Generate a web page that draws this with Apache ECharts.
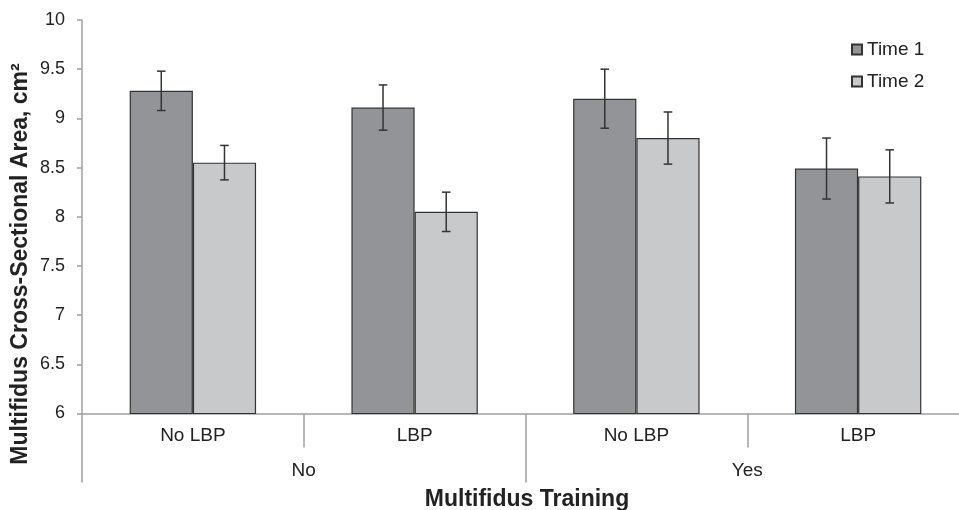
<!DOCTYPE html>
<html><head><meta charset="utf-8">
<script src="https://cdn.jsdelivr.net/npm/echarts@6/dist/echarts.min.js"></script>
<style>html,body{margin:0;padding:0;background:#fff}#c{width:959px;height:510px}</style>
</head><body><div id="c"></div>
<script>
const categories = ['No LBP', 'LBP', 'No LBP', 'LBP'];
const groups = ['No', 'Yes'];
const seriesNames = ['Time 1', 'Time 2'];
const time1 = [9.28, 9.11, 9.20, 8.49];
const time2 = [8.55, 8.05, 8.80, 8.41];
const time1Err = [0.20, 0.23, 0.30, 0.31];
const time2Err = [0.175, 0.20, 0.265, 0.27];
const yTicks = [6, 6.5, 7, 7.5, 8, 8.5, 9, 9.5, 10];
const yTitle = 'Multifidus Cross-Sectional Area, cm²';
const xTitle = 'Multifidus Training';

const colors = ['#939498', '#c8c9cb'];
const FONT = 'Liberation Sans, Arial, sans-serif';
const axisGray = '#a0a0a0';
const gapPct = 43;

const errData = [];
[time1, time2].forEach((vals, s) => {
  const errs = s === 0 ? time1Err : time2Err;
  vals.forEach((v, i) => errData.push([i, v - errs[i], v + errs[i], s]));
});

const chart = echarts.init(document.getElementById('c'));
chart.setOption({
  animation: false,
  backgroundColor: '#fff',
  grid: { left: 82, top: 20, width: 887, height: 393.5, containLabel: false, outerBoundsMode: 'none' },
  legend: {
    orient: 'vertical', left: 846, top: 35, itemGap: 13,
    itemWidth: 10, itemHeight: 10, icon: 'rect',
    textStyle: { fontFamily: FONT, fontSize: 19, color: '#222', padding: [0, 0, 0, 0] },
    data: seriesNames
  },
  graphic: [
    { type: 'text', x: 21, y: 264, rotation: Math.PI / 2,
      style: { text: yTitle, fontFamily: FONT, fontSize: 23, fontWeight: 'bold', fill: '#222',
        align: 'center', verticalAlign: 'middle' } },
    { type: 'text', x: 527, y: 500,
      style: { text: xTitle, fontFamily: FONT, fontSize: 23, fontWeight: 'bold', fill: '#222',
        align: 'center', verticalAlign: 'middle' } }
  ],
  xAxis: [
    {
      type: 'category', data: categories, position: 'bottom',
      axisLine: { show: true, lineStyle: { color: axisGray, width: 1.5 } },
      axisTick: { show: true, interval: 0, length: 34, lineStyle: { color: axisGray, width: 1.5 } },
      axisLabel: { show: true, interval: 0, margin: 13, fontFamily: FONT, fontSize: 19, color: '#222' }
    },
    {
      type: 'category', data: groups, position: 'bottom',
      axisLine: { show: false },
      axisTick: { show: true, interval: 0, length: 69, lineStyle: { color: axisGray, width: 1.5 } },
      axisLabel: { show: true, interval: 0, margin: 48, fontFamily: FONT, fontSize: 19, color: '#222' }
    }
  ],
  yAxis: {
    type: 'value', min: 6, max: 10, interval: 0.5,
    axisLine: { show: true, lineStyle: { color: axisGray, width: 1.5 } },
    axisTick: { show: true, length: 5, lineStyle: { color: axisGray, width: 1.5 } },
    splitLine: { show: false },
    axisLabel: { margin: 17, fontFamily: FONT, fontSize: 18, color: '#222' }
  },
  series: [
    { name: seriesNames[0], type: 'bar', data: time1, barGap: '0%', barCategoryGap: gapPct + '%',
      itemStyle: { color: colors[0], borderColor: '#333', borderWidth: 1.2 } },
    { name: seriesNames[1], type: 'bar', data: time2, barGap: '0%', barCategoryGap: gapPct + '%',
      itemStyle: { color: colors[1], borderColor: '#333', borderWidth: 1.2 } },
    {
      type: 'custom', data: errData, z: 10,
      renderItem: function (params, api) {
        const cat = api.value(0), s = api.value(3);
        const catW = api.size([1, 0])[0];
        const bw = catW * (1 - gapPct / 100) / 2;
        const lo = api.coord([cat, api.value(1)]);
        const hi = api.coord([cat, api.value(2)]);
        const x = lo[0] + (s === 0 ? -bw / 2 : bw / 2);
        const cw = 4.3;
        const st = { stroke: '#333', lineWidth: 1.5 };
        return { type: 'group', children: [
          { type: 'line', shape: { x1: x, y1: lo[1], x2: x, y2: hi[1] }, style: st },
          { type: 'line', shape: { x1: x - cw, y1: lo[1], x2: x + cw, y2: lo[1] }, style: st },
          { type: 'line', shape: { x1: x - cw, y1: hi[1], x2: x + cw, y2: hi[1] }, style: st }
        ]};
      }
    }
  ]
});
</script></body></html>
